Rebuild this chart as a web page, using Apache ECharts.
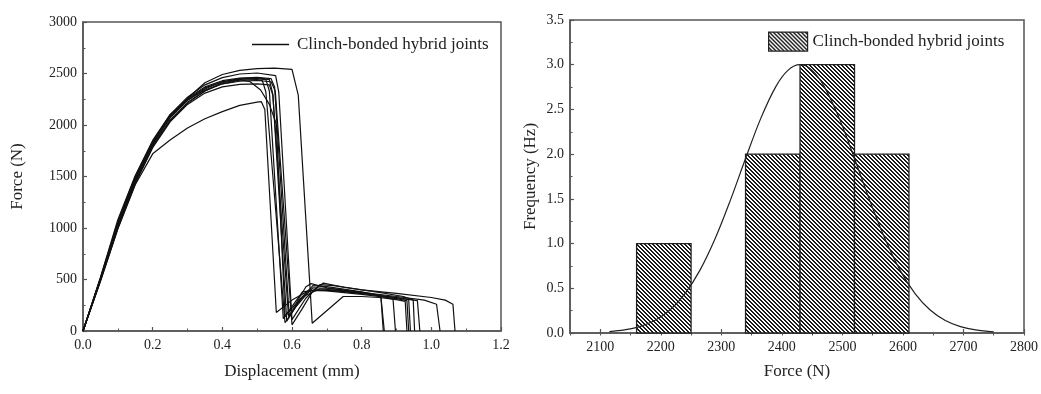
<!DOCTYPE html>
<html>
<head>
<meta charset="utf-8">
<script src="https://cdn.jsdelivr.net/npm/echarts@6/dist/echarts.min.js"></script>
<style>html,body{margin:0;padding:0;background:#fff}#c{width:1041px;height:394px}</style>
</head>
<body>
<div id="c"></div>
<script>
// ---------- Data ----------
const seriesName = 'Clinch-bonded hybrid joints';

const curve1 = [[0,0],[0.05,500],[0.1,1020],[0.15,1460],[0.2,1810],[0.25,2080],[0.3,2260],[0.35,2410],[0.4,2490],[0.45,2530],[0.5,2548],[0.55,2552],[0.6,2540],[0.618,2290],[0.658,75],[0.747,335],[0.8,335],[0.85,325],[0.9,305],[0.925,288],[0.93,0]];
const curve2 = [[0,0],[0.05,510],[0.1,1050],[0.15,1490],[0.2,1840],[0.25,2100],[0.3,2270],[0.35,2390],[0.4,2460],[0.45,2495],[0.5,2505],[0.553,2480],[0.562,2320],[0.6,110],[0.64,320],[0.68,450],[0.72,440],[0.8,400],[0.9,365],[1.0,325],[1.04,300],[1.062,260],[1.068,0]];
const curve3 = [[0,0],[0.05,490],[0.1,1000],[0.15,1450],[0.2,1820],[0.25,2070],[0.3,2240],[0.35,2350],[0.4,2420],[0.45,2450],[0.5,2458],[0.535,2440],[0.545,2300],[0.585,95],[0.62,290],[0.66,420],[0.7,415],[0.8,375],[0.9,335],[0.98,300],[1.015,260],[1.025,0]];
const curve4 = [[0,0],[0.05,520],[0.1,1080],[0.15,1510],[0.2,1850],[0.25,2100],[0.3,2250],[0.35,2360],[0.4,2420],[0.45,2445],[0.5,2450],[0.525,2440],[0.535,2330],[0.575,120],[0.63,380],[0.67,400],[0.75,385],[0.85,345],[0.93,310],[0.96,295],[0.967,0]];
const curve5 = [[0,0],[0.05,495],[0.1,1010],[0.15,1440],[0.2,1790],[0.25,2050],[0.3,2220],[0.35,2330],[0.4,2400],[0.45,2435],[0.5,2440],[0.515,2430],[0.525,2320],[0.58,80],[0.61,230],[0.65,390],[0.7,400],[0.8,365],[0.9,325],[0.935,305],[0.94,0]];
const curve6 = [[0,0],[0.05,505],[0.1,1040],[0.15,1470],[0.2,1800],[0.25,2040],[0.3,2210],[0.35,2330],[0.4,2410],[0.45,2440],[0.48,2420],[0.51,2340],[0.535,2200],[0.555,2010],[0.58,140],[0.61,260],[0.64,430],[0.655,460],[0.7,420],[0.8,375],[0.855,340],[0.865,0]];
const curve7 = [[0,0],[0.05,480],[0.1,990],[0.15,1420],[0.2,1720],[0.25,1855],[0.3,1970],[0.35,2060],[0.4,2130],[0.45,2190],[0.5,2222],[0.512,2226],[0.522,2150],[0.555,180],[0.6,300],[0.65,395],[0.7,390],[0.8,355],[0.9,315],[0.93,295],[0.935,0]];
const curve8 = [[0,0],[0.05,490],[0.1,1000],[0.15,1430],[0.2,1780],[0.25,2030],[0.3,2200],[0.35,2310],[0.4,2370],[0.45,2395],[0.5,2400],[0.535,2390],[0.545,2290],[0.59,140],[0.63,330],[0.68,410],[0.75,390],[0.85,345],[0.89,310],[0.897,0]];
const curve9 = [[0,0],[0.05,515],[0.1,1060],[0.15,1500],[0.2,1830],[0.25,2080],[0.3,2240],[0.35,2340],[0.4,2400],[0.45,2425],[0.5,2432],[0.54,2420],[0.552,2330],[0.6,60],[0.63,220],[0.66,390],[0.69,465],[0.75,425],[0.85,375],[0.92,335],[0.948,300],[0.952,0]];
const curve10 = [[0,0],[0.05,500],[0.1,1030],[0.15,1480],[0.2,1830],[0.25,2090],[0.3,2260],[0.35,2370],[0.4,2430],[0.45,2455],[0.5,2462],[0.54,2450],[0.55,2370],[0.592,150],[0.62,300],[0.66,440],[0.7,430],[0.8,380],[0.855,345],[0.862,0]];
const curves = [curve1,curve2,curve3,curve4,curve5,curve6,curve7,curve8,curve9,curve10];

// Histogram: bin edges and counts
const binStart = [2160, 2340, 2430, 2520];
const binEnd   = [2250, 2430, 2520, 2610];
const binCount = [1, 2, 3, 2];
// Fitted normal curve
const fitX = [2115,2140,2165,2190,2215,2240,2265,2290,2315,2340,2365,2390,2410,2430,2450,2470,2495,2520,2545,2570,2595,2620,2645,2670,2695,2720,2750];
const fitY = [0.015,0.034,0.072,0.140,0.257,0.441,0.706,1.059,1.486,1.951,2.397,2.755,2.937,3.0,2.937,2.755,2.397,1.951,1.486,1.059,0.706,0.441,0.257,0.140,0.072,0.034,0.013];
const forceHundreds = [2100,2200,2300,2400,2500,2600,2700,2800];

// ---------- Styles ----------
const FONT = '"Liberation Serif", "DejaVu Serif", serif';
const AX = '#555';
function hatchCanvas(){
  const s = 4;
  const c = document.createElement('canvas'); c.width = s; c.height = s;
  const g = c.getContext('2d');
  g.fillStyle = '#fff'; g.fillRect(0,0,s,s);
  g.fillStyle = '#1a1a1a';
  for (let y = 0; y < s; y++) for (let x = 0; x < s; x++) {
    if (((x - y) % s + s) % s < 2) g.fillRect(x, y, 1, 1);
  }
  return c;
}
const hatch = { image: hatchCanvas(), repeat: 'repeat' };

const chart = echarts.init(document.getElementById('c'), null, {renderer: 'canvas'});

function valAxis(o){
  return Object.assign({
    type: 'value',
    axisLine: {show: true, onZero: false, lineStyle: {color: AX, width: 1.5}},
    axisTick: {show: true, inside: true, length: 4, lineStyle: {color: AX, width: 1.2}},
    minorTick: {show: true, splitNumber: 2, length: 2.5, lineStyle: {color: AX, width: 1}},
    splitLine: {show: false},
    axisLabel: {color: '#222', fontFamily: FONT, fontSize: 14, margin: 6, formatter: v => String(v)},
    nameTextStyle: {color: '#222', fontFamily: FONT, fontSize: 17},
    nameLocation: 'middle'
  }, o);
}

const lineSeries = curves.map(c => ({
  name: seriesName, type: 'line', xAxisIndex: 0, yAxisIndex: 0,
  data: c, symbol: 'none', showSymbol: false, smooth: false,
  lineStyle: {color: '#111', width: 1.2}, itemStyle: {color: '#111'},
  silent: true, animation: false
}));

const option = {
  animation: false,
  backgroundColor: '#fff',
  grid: [
    {left: 83, top: 22, width: 418, height: 309, show: true, borderColor: AX, borderWidth: 1.5, containLabel: false},
    {left: 570, top: 20, width: 458, height: 313, show: true, borderColor: AX, borderWidth: 1.5, containLabel: false}
  ],
  legend: [
    {data: [{name: seriesName, icon: 'rect', itemStyle: {color: '#111'}}], left: 247, top: 31, itemWidth: 37, itemHeight: 1.4,
     textStyle: {fontFamily: FONT, fontSize: 17, color: '#222', padding: [0,0,0,3]}, selectedMode: false},
    {data: [{name: seriesName + ' ', icon: 'rect', itemStyle: {color: hatch, borderColor: '#222', borderWidth: 1.2}}],
     left: 763, top: 26.5, itemWidth: 39, itemHeight: 19, selectedMode: false,
     formatter: n => n.trim(),
     textStyle: {fontFamily: FONT, fontSize: 17, color: '#222'}}
  ],
  xAxis: [
    valAxis({gridIndex: 0, min: 0, max: 1.2, interval: 0.2, name: 'Displacement (mm)', nameGap: 32,
      axisLabel: {color: '#222', fontFamily: FONT, fontSize: 14, margin: 7, formatter: v => v.toFixed(1)}}),
    valAxis({gridIndex: 1, min: 2050, max: 2800, interval: 50, name: 'Force (N)', nameGap: 30,
      axisTick: {show: true, inside: true, length: 4, customValues: forceHundreds, lineStyle: {color: AX, width: 1.2}},
      minorTick: {show: false},
      axisLabel: {color: '#222', fontFamily: FONT, fontSize: 14, margin: 7, customValues: forceHundreds, formatter: v => String(v)}}),
    valAxis({gridIndex: 1, min: 2050, max: 2800, interval: 50, axisLine: {show: false},
      axisTick: {show: true, inside: true, length: 2.5, lineStyle: {color: AX, width: 1}},
      minorTick: {show: false}, axisLabel: {show: false}})
  ],
  yAxis: [
    valAxis({gridIndex: 0, min: 0, max: 3000, interval: 500, name: 'Force (N)', nameGap: 57}),
    valAxis({gridIndex: 1, min: 0, max: 3.5, interval: 0.5, name: 'Frequency (Hz)', nameGap: 31,
      axisLabel: {color: '#222', fontFamily: FONT, fontSize: 14, margin: 6, formatter: v => v.toFixed(1)}})
  ],
  series: lineSeries.concat([
    {
      name: seriesName + ' ', type: 'custom', xAxisIndex: 1, yAxisIndex: 1,
      data: binStart.map((s, i) => [s, binEnd[i], binCount[i]]),
      itemStyle: {color: hatch},
      renderItem: (params, api) => {
        const p0 = api.coord([api.value(0), api.value(2)]);
        const p1 = api.coord([api.value(1), 0]);
        return {type: 'rect', shape: {x: p0[0], y: p0[1], width: p1[0] - p0[0], height: p1[1] - p0[1]},
          style: {fill: hatch, stroke: '#222', lineWidth: 1.3}};
      },
      silent: true, animation: false
    },
    {
      name: 'fit', type: 'line', xAxisIndex: 1, yAxisIndex: 1,
      data: fitX.map((x, i) => [x, fitY[i]]), symbol: 'none', smooth: 0.35,
      lineStyle: {color: '#222', width: 1.2}, silent: true, animation: false
    }
  ])
};
chart.setOption(option);
</script>
</body>
</html>
